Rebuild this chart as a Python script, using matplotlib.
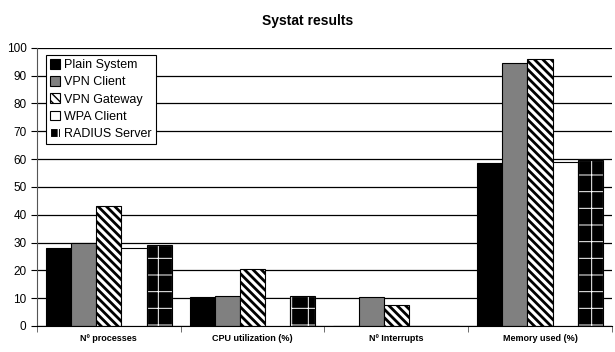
import matplotlib
matplotlib.use("Agg")
import matplotlib.pyplot as plt
import numpy as np

plt.rcParams['font.family'] = ['Liberation Sans', 'DejaVu Sans']

categories = ["Nº processes", "CPU utilization (%)", "Nº Interrupts", "Memory used (%)"]
series_names = ["Plain System", "VPN Client", "VPN Gateway", "WPA Client", "RADIUS Server"]
plain_system = [28, 10.3, 0, 58.5]
vpn_client = [30, 10.6, 10.3, 94.5]
vpn_gateway = [43, 20.5, 7.5, 96]
wpa_client = [28, 10.2, 0, 59]
radius_server = [29, 10.6, 0, 59.5]
yticks = [0, 10, 20, 30, 40, 50, 60, 70, 80, 90, 100]

fig = plt.figure(figsize=(6.15, 3.52), dpi=100)
ax = fig.add_axes([0.060, 0.074, 0.935, 0.790])

x = np.arange(len(categories))
w = 0.175
offsets = (np.arange(5) - 2) * w

styles = [
    dict(facecolor='black', edgecolor='black'),
    dict(facecolor='#808080', edgecolor='black'),
    dict(facecolor='white', edgecolor='black', hatch='\\' * 4),
    dict(facecolor='white', edgecolor='black'),
    dict(facecolor='black', edgecolor='white', hatch='+'),
]
hatch_lw = [1.0, 1.0, 2.0, 1.0, 0.7]
data = [plain_system, vpn_client, vpn_gateway, wpa_client, radius_server]

ax.set_axisbelow(True)
ax.grid(axis='y', color='black', linewidth=0.9)
handles = []
for i, (vals, st, name) in enumerate(zip(data, styles, series_names)):
    with plt.rc_context({'hatch.linewidth': hatch_lw[i]}):
        b = ax.bar(x + offsets[i], vals, w, linewidth=0.8, label=name, zorder=2, **st)
    if i == 4:
        ax.bar(x + offsets[i], vals, w, facecolor='none', edgecolor='black', linewidth=0.8, zorder=3)
    handles.append(b)

ax.set_xlim(-0.5, 3.5)
ax.set_ylim(0, 100)
ax.set_yticks(yticks)
ax.tick_params(axis='y', labelsize=8.5, length=4, direction='out', width=0.8)
ax.set_xticks(x)
ax.set_xticklabels(categories, fontsize=6.5, fontweight='bold')
ax.tick_params(axis='x', length=0, pad=6)
ax.set_xticks(np.arange(-0.5, 4.0, 1.0), minor=True)
ax.tick_params(axis='x', which='minor', length=4, direction='out', color='#555555')
for s in ['top', 'right']:
    ax.spines[s].set_visible(False)
ax.spines['left'].set_color('#555555')
ax.spines['bottom'].set_color('black')

leg = ax.legend(handles=handles, loc='upper left', bbox_to_anchor=(0.015, 0.975), fontsize=9,
                frameon=True, fancybox=False, edgecolor='black', framealpha=1,
                handlelength=0.8, handleheight=0.8, handletextpad=0.3, labelspacing=0.4,
                borderpad=0.35, borderaxespad=0)
leg.get_frame().set_linewidth(0.8)

fig.text(0.5, 0.94, "Systat results", ha='center', va='center', fontsize=10, fontweight='bold')

fig.savefig("out.png", dpi=100)
